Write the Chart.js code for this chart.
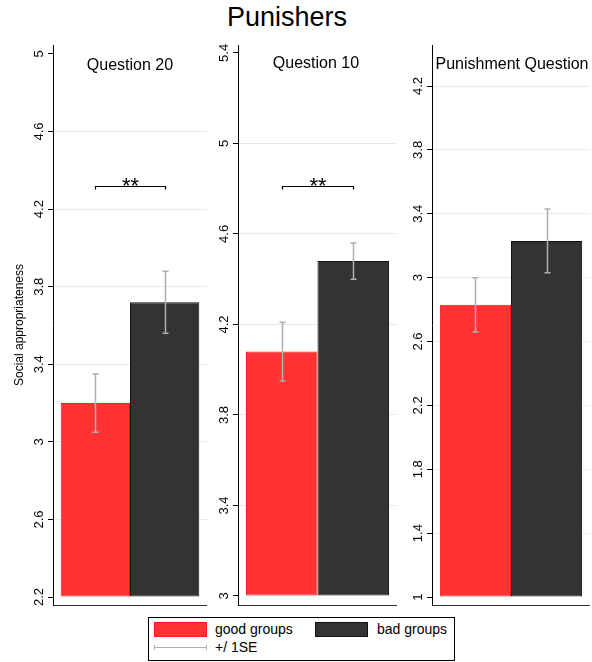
<!DOCTYPE html>
<html><head><meta charset="utf-8">
<script src="https://cdn.jsdelivr.net/npm/chart.js@4"></script>
<style>
body{margin:0;width:592px;height:662px;position:relative;background:#fff;font-family:'Liberation Sans',Arial,sans-serif;overflow:hidden}
.cv{position:absolute;top:30px;height:590px}
.t{position:absolute;white-space:nowrap;color:#000}
#leg{position:absolute;left:148px;top:617px;width:305px;height:42px;border:1px solid #000;background:#fff;z-index:5}
#leg span{position:absolute;display:block}
.sw{box-sizing:border-box;height:15px;width:53px}
.lt{font-size:14px;line-height:15px}
</style></head><body>
<div class="t" style="left:187px;width:200px;top:4px;text-align:center;font-size:27px;line-height:27px">Punishers</div>
<div class="cv" style="left:0;width:207px"><canvas id="c0"></canvas></div>
<div class="cv" style="left:185px;width:212px"><canvas id="c1"></canvas></div>
<div class="cv" style="left:379px;width:211px"><canvas id="c2"></canvas></div>
<div class="t" style="left:30px;width:200px;top:57px;text-align:center;font-size:16px;line-height:16px">Question 20</div>
<div class="t" style="left:216px;width:200px;top:55px;text-align:center;font-size:16px;line-height:16px">Question 10</div>
<div class="t" style="left:412px;width:200px;top:56px;text-align:center;font-size:16px;line-height:16px">Punishment Question</div>
<div id="leg">
  <span class="sw" style="left:5px;top:4px;background:#ff3333;border:1px solid #ff1a1a"></span>
  <span class="lt" style="left:66px;top:4px">good groups</span>
  <span class="sw" style="left:166px;top:4px;background:#333333;border:1px solid #111"></span>
  <span class="lt" style="left:228px;top:4px">bad groups</span>
  <span style="left:5px;top:27px;width:51px;height:5px;border-left:1px solid #b0b0b0;border-right:1px solid #b0b0b0"></span>
  <span style="left:5px;top:29px;width:53px;height:1px;background:#b0b0b0"></span>
  <span class="lt" style="left:66px;top:22px">+/ 1SE</span>
</div>
<script>
// ---- data ----
const panels = ['Question 20', 'Question 10', 'Punishment Question'];
const seriesNames = ['good groups', 'bad groups'];
const goodMean = [3.20, 4.08, 2.83];
const badMean  = [3.72, 4.48, 3.23];
const goodSE   = [0.15, 0.13, 0.17];
const badSE    = [0.16, 0.08, 0.20];
const sigLevel = [4.32, 4.81, null];
const sigLabel = ['**', '**', ''];
const ticks0 = [2.2, 2.6, 3, 3.4, 3.8, 4.2, 4.6, 5];
const ticks1 = [3, 3.4, 3.8, 4.2, 4.6, 5, 5.4];
const ticks2 = [1, 1.4, 1.8, 2.2, 2.6, 3, 3.4, 3.8, 4.2];
const tickSets = [ticks0, ticks1, ticks2];
const axisMin = [2.159, 2.960, 0.950];
const axisMax = [5.046, 5.435, 4.457];
const barBase = [2.2, 3, 1];
const yTitle = 'Social appropriateness';

const FONT = "'Liberation Sans', Arial, sans-serif";

const errPlugin = {
  id: 'err',
  afterDatasetsDraw(chart, args, opts) {
    const p = opts.panel;
    const ys = chart.scales.y;
    const ctx = chart.ctx;
    ctx.save();
    const ses = [goodSE, badSE];
    const xs = [];
    ses.forEach((arr, di) => {
      const bar = chart.getDatasetMeta(di).data[0];
      const v = chart.data.datasets[di].data[0];
      const se = arr[p];
      const x = Math.round(bar.x) + 0.5;
      xs.push(x);
      const y1 = ys.getPixelForValue(v + se), y2 = ys.getPixelForValue(v - se);
      ctx.strokeStyle = '#b0b0b0';
      ctx.lineWidth = 1.5;
      ctx.beginPath();
      ctx.moveTo(x, y1); ctx.lineTo(x, y2);
      ctx.moveTo(x - 3, y1); ctx.lineTo(x + 3, y1);
      ctx.moveTo(x - 3, y2); ctx.lineTo(x + 3, y2);
      ctx.stroke();
    });
    if (sigLevel[p] != null) {
      const y = Math.round(ys.getPixelForValue(sigLevel[p])) + 0.5;
      ctx.strokeStyle = '#000';
      ctx.lineWidth = 1.2;
      ctx.beginPath();
      ctx.moveTo(xs[0], y + 3); ctx.lineTo(xs[0], y); ctx.lineTo(xs[1], y); ctx.lineTo(xs[1], y + 3);
      ctx.stroke();
      ctx.fillStyle = '#000';
      ctx.font = '22px ' + FONT;
      ctx.textAlign = 'center';
      ctx.textBaseline = 'alphabetic';
      ctx.fillText(sigLabel[p], (xs[0] + xs[1]) / 2, y + 6);
    }
    ctx.restore();
  }
};

function makeChart(i) {
  return new Chart(document.getElementById('c' + i), {
    type: 'bar',
    data: {
      labels: [panels[i]],
      datasets: [
        { label: seriesNames[0], data: [goodMean[i]], base: barBase[i],
          backgroundColor: '#ff3333', borderColor: '#ff1a1a', borderWidth: 1, borderSkipped: false },
        { label: seriesNames[1], data: [badMean[i]], base: barBase[i],
          backgroundColor: '#333333', borderColor: '#111111', borderWidth: 1, borderSkipped: false }
      ]
    },
    options: {
      responsive: true,
      maintainAspectRatio: false,
      animation: false,
      events: [],
      categoryPercentage: 0.9,
      barPercentage: 1.0,
      layout: { padding: { top: 15, bottom: 15, left: 0, right: 0 } },
      plugins: {
        legend: { display: false },
        tooltip: { enabled: false },
        title: { display: false },
        err: { panel: i }
      },
      scales: {
        x: {
          type: 'category',
          grid: { display: false, drawTicks: false },
          ticks: { display: false },
          border: { display: true, color: '#333', width: 1 },
          afterFit: s => { s.height = 0; }
        },
        y: {
          type: 'linear',
          position: 'left',
          min: axisMin[i],
          max: axisMax[i],
          afterBuildTicks: s => { s.ticks = tickSets[i].map(v => ({ value: v })); },
          afterFit: s => { s.width = 53; },
          border: { display: true, color: '#000', width: 1 },
          grid: {
            color: c => {
              const sc = c.scale;
              if (!c.tick) return 'rgba(0,0,0,0)';
              const px = sc.getPixelForValue(c.tick.value);
              if (px - sc.top < 14 || sc.bottom - px < 14) return 'rgba(0,0,0,0)';
              return '#e4ecee';
            },
            tickColor: '#000',
            tickLength: 5,
            tickWidth: 1,
            lineWidth: 1
          },
          ticks: {
            autoSkip: false,
            minRotation: 90,
            maxRotation: 90,
            padding: 0,
            crossAlign: 'center',
            color: '#000',
            font: { family: FONT, size: 13 },
            callback: v => String(v)
          },
          title: {
            display: i === 0,
            text: yTitle,
            color: '#000',
            font: { family: FONT, size: 12 },
            padding: { top: 12, bottom: 0 }
          }
        }
      }
    },
    plugins: [errPlugin]
  });
}
[0, 1, 2].forEach(makeChart);
</script>
</body></html>
